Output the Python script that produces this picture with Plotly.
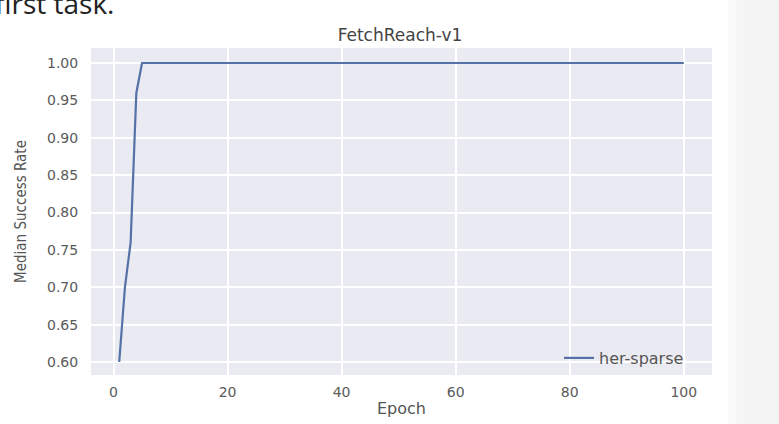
import plotly.graph_objects as go

# Data
epochs = list(range(1, 101))
early_success = [0.60, 0.70, 0.76, 0.96]
success_rate = early_success + [1.0] * (len(epochs) - len(early_success))
series_name = "her-sparse"
x_ticks = [0, 20, 40, 60, 80, 100]
y_ticks = [0.60, 0.65, 0.70, 0.75, 0.80, 0.85, 0.90, 0.95, 1.00]

W, H = 779, 424
L, R, T, B = 91, 67, 48, 49
pw, ph = W - L - R, H - T - B

def px_to_paper_x(px):
    return (px - L) / pw

def px_to_paper_y(py):
    return (H - B - py) / ph

fig = go.Figure()
fig.add_trace(go.Scatter(
    x=epochs, y=success_rate, mode="lines", name=series_name,
    line=dict(color="#5571a6", width=2.2),
))

tick_font = dict(family="DejaVu Sans", size=14, color="#5a5a5a")

fig.update_layout(
    width=W, height=H,
    margin=dict(l=L, r=R, t=T, b=B, autoexpand=False),
    paper_bgcolor="white",
    plot_bgcolor="#EAEAF2",
    showlegend=True,
    legend=dict(
        x=px_to_paper_x(559), xanchor="left",
        y=px_to_paper_y(358), yanchor="middle",
        bgcolor="rgba(0,0,0,0)", borderwidth=0,
        font=dict(family="DejaVu Sans", size=16, color="#555555"),
    ),
    title=dict(
        text="FetchReach-v1", x=px_to_paper_x(400), xref="paper", xanchor="center",
        y=1 - 35 / H, yref="container", yanchor="middle",
        font=dict(family="DejaVu Sans", size=17, color="#444444"),
    ),
    xaxis=dict(
        range=[-3.95, 104.95], tickvals=x_ticks,
        ticktext=[str(v) for v in x_ticks],
        showgrid=True, gridcolor="white", gridwidth=1.5,
        zeroline=False, showline=False,
        ticks="outside", ticklen=4, tickcolor="rgba(0,0,0,0)",
        tickfont=tick_font,
        title=dict(text="Epoch", standoff=4,
                   font=dict(family="DejaVu Sans", size=16, color="#555555")),
    ),
    yaxis=dict(
        range=[0.5826, 1.0201], tickvals=y_ticks,
        ticktext=[f"{v:.2f}" for v in y_ticks],
        showgrid=True, gridcolor="white", gridwidth=1.5,
        zeroline=False, showline=False,
        ticks="outside", ticklen=9, tickcolor="rgba(0,0,0,0)",
        tickfont=tick_font,
        title=dict(text="Median Success Rate", standoff=16,
                   font=dict(family="DejaVu Sans Condensed, DejaVu Sans", size=15, color="#555555")),
    ),
)

# Light grey page panel at the right edge of the screenshot
panel_steps = [(728, 736, "#fbfbfb"), (736, 744, "#f7f7f7"), (744, 790, "#f3f3f3")]
for x0, x1, col in panel_steps:
    fig.add_shape(type="rect", xref="paper", yref="paper",
                  x0=px_to_paper_x(x0), x1=px_to_paper_x(x1),
                  y0=px_to_paper_y(430), y1=px_to_paper_y(-10),
                  fillcolor=col, line=dict(width=0), layer="below")

# Cut-off text from the surrounding page
fig.add_annotation(
    text="first task.", xref="paper", yref="paper",
    x=px_to_paper_x(-7), xanchor="left",
    y=px_to_paper_y(3), yanchor="middle",
    showarrow=False,
    font=dict(family="Open Sans", size=28, color="#222222"),
)

fig.write_html("out.html", config={"displayModeBar": False})

# Remove the default page margin so the figure sits at the window's corner
with open("out.html", "r", encoding="utf-8") as f:
    html = f.read()
html = html.replace("<head>", "<head><style>html,body{margin:0;padding:0;overflow:hidden;}</style>", 1)
with open("out.html", "w", encoding="utf-8") as f:
    f.write(html)
